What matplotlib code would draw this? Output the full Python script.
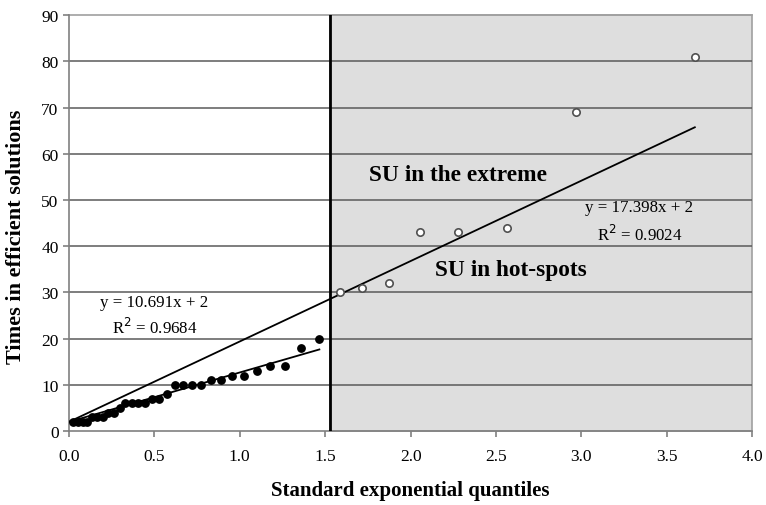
"""
Exponential QQ plot of times in efficient solutions (SU in hot-spots vs extreme).
"""
import numpy as np
import matplotlib
matplotlib.use('Agg')
import matplotlib.pyplot as plt
from matplotlib.patches import Rectangle

# Standard exponential quantiles and observed counts
hot_x = [0.026, 0.053, 0.080, 0.108, 0.137, 0.167, 0.198, 0.230, 0.262, 0.296,
         0.331, 0.368, 0.405, 0.445, 0.486, 0.528, 0.572, 0.619, 0.668, 0.719,
         0.773, 0.830, 0.891, 0.956, 1.025, 1.099, 1.179, 1.266, 1.361, 1.466]
hot_y = [2, 2, 2, 2, 3, 3, 3, 4, 4, 5,
         6, 6, 6, 6, 7, 7, 8, 10, 10, 10,
         10, 11, 11, 12, 12, 13, 14, 14, 18, 20]
ext_x = [1.584, 1.718, 1.872, 2.054, 2.277, 2.565, 2.970, 3.664]
ext_y = [30, 31, 32, 43, 43, 44, 69, 81]

# Trend lines (intercept fixed at 2)
hot_slope, ext_slope, intercept = 10.691, 17.398, 2
hot_r2, ext_r2 = 0.9684, 0.9024
cutoff = 1.53

plt.rcParams['font.family'] = ['Liberation Serif', 'DejaVu Serif']

fig = plt.figure(figsize=(7.66, 5.06), dpi=100)
ax = fig.add_axes([0.090, 0.146, 0.892, 0.822])

ax.set_xlim(0, 4.0)
ax.set_ylim(0, 90)

# shaded "extreme" region
ax.add_patch(Rectangle((cutoff, 0), 4.0 - cutoff, 90, facecolor='#dedede',
                       edgecolor='#a0a0a0', lw=1.2, zorder=0, clip_on=False))

# horizontal grid
for yv in range(10, 90, 10):
    ax.axhline(yv, color='#5a5a5a', lw=1.1, zorder=1)
ax.axhline(90, color='#a0a0a0', lw=1.2, zorder=1, clip_on=False)

ax.axvline(cutoff, color='black', lw=2.0, zorder=3)

# trend lines
xh = np.array([0, max(hot_x)])
xe = np.array([0, max(ext_x)])
ax.plot(xh, hot_slope * xh + intercept, color='black', lw=1.3, zorder=4)
ax.plot(xe, ext_slope * xe + intercept, color='black', lw=1.3, zorder=4)

ax.plot(hot_x, hot_y, 'o', color='black', ms=5.3, zorder=5)
ax.plot(ext_x, ext_y, 'o', mfc='white', mec='#505050', mew=1.2, ms=5.3, zorder=5)

# annotations
ax.text(0.50, 28, f'y = {hot_slope}x + 2', ha='center', va='center', fontsize=12.2)
ax.text(0.50, 22.5, f'R$^2$ = {hot_r2}', ha='center', va='center', fontsize=12.2)
ax.text(3.34, 48.4, f'y = {ext_slope}x + 2', ha='center', va='center', fontsize=12.2)
ax.text(3.34, 42.6, f'R$^2$ = {ext_r2}', ha='center', va='center', fontsize=12.2)
ax.text(2.28, 55.6, 'SU in the extreme', ha='center', va='center',
        fontsize=16.8, fontweight='bold')
ax.text(2.59, 35, 'SU in hot-spots', ha='center', va='center',
        fontsize=16.8, fontweight='bold')

# axes styling
ax.set_xticks(np.arange(0, 4.01, 0.5))
ax.set_xticklabels([f'{v:.1f}' for v in np.arange(0, 4.01, 0.5)])
ax.set_yticks(range(0, 91, 10))
ax.tick_params(axis='both', direction='out', length=4, color='#808080',
               labelsize=12.5, width=1.2)
ax.tick_params(axis='x', pad=8)
for side in ['top', 'right']:
    ax.spines[side].set_visible(False)
for side in ['left', 'bottom']:
    ax.spines[side].set_color('#808080')
    ax.spines[side].set_linewidth(1.2)

ax.set_xlabel('Standard exponential quantiles', fontsize=15, fontweight='bold', labelpad=12)
ax.set_ylabel('Times in efficient solutions', fontsize=16, fontweight='bold')
ax.yaxis.set_label_coords(-0.063, 0.469)

fig.savefig('out.png', dpi=100)
